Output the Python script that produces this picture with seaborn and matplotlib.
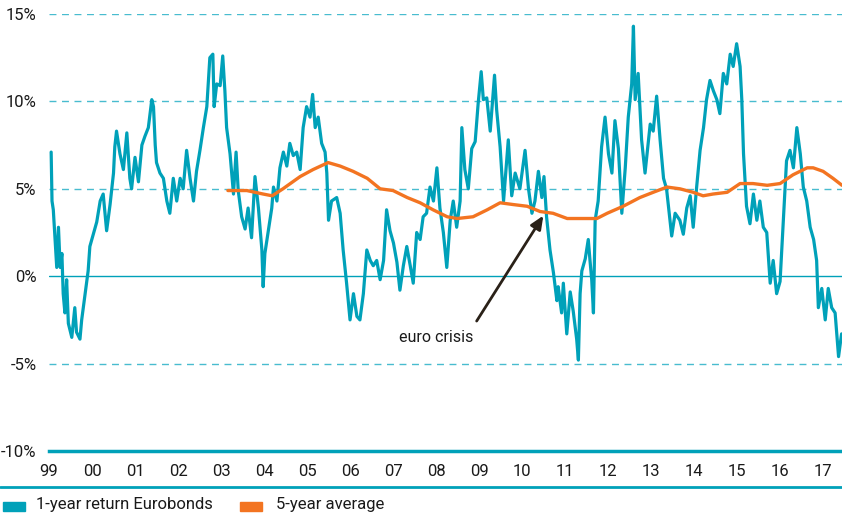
import numpy as np
import pandas as pd
import seaborn as sns
import matplotlib.pyplot as plt
from matplotlib.patches import Rectangle
from matplotlib.lines import Line2D

# 1-year return Eurobonds (decimal year, %)
bond_t = [1999.05, 1999.07, 1999.10, 1999.14, 1999.18, 1999.22, 1999.26, 1999.30, 1999.33, 1999.37,
          1999.41, 1999.45, 1999.53, 1999.60, 1999.64, 1999.72, 1999.76, 1999.84, 1999.91, 1999.95,
          2000.03, 2000.11, 2000.19, 2000.26, 2000.34, 2000.42, 2000.50, 2000.53, 2000.57, 2000.65,
          2000.73, 2000.81, 2000.88, 2000.92, 2001.00, 2001.08, 2001.16, 2001.23, 2001.31, 2001.39,
          2001.43, 2001.47, 2001.50, 2001.58, 2001.66, 2001.74, 2001.81, 2001.89, 2001.97, 2002.05,
          2002.12, 2002.20, 2002.28, 2002.36, 2002.43, 2002.51, 2002.59, 2002.67, 2002.74, 2002.81,
          2002.84, 2002.90, 2002.98, 2003.04, 2003.09, 2003.13, 2003.21, 2003.29, 2003.35, 2003.40,
          2003.48, 2003.56, 2003.63, 2003.71, 2003.79, 2003.87, 2003.95, 2003.98, 2004.02, 2004.10,
          2004.18, 2004.22, 2004.30, 2004.37, 2004.45, 2004.53, 2004.60, 2004.68, 2004.76, 2004.84,
          2004.91, 2004.99, 2005.07, 2005.13, 2005.19, 2005.26, 2005.34, 2005.42, 2005.46, 2005.50,
          2005.57, 2005.69, 2005.77, 2005.84, 2005.92, 2006.00, 2006.08, 2006.16, 2006.23, 2006.31,
          2006.39, 2006.47, 2006.54, 2006.62, 2006.70, 2006.78, 2006.85, 2006.93, 2007.01, 2007.09,
          2007.16, 2007.24, 2007.32, 2007.40, 2007.47, 2007.55, 2007.63, 2007.70, 2007.78, 2007.86,
          2007.94, 2008.02, 2008.09, 2008.17, 2008.25, 2008.33, 2008.40, 2008.48, 2008.56, 2008.60,
          2008.67, 2008.75, 2008.83, 2008.91, 2008.98, 2009.05, 2009.10, 2009.18, 2009.26, 2009.36,
          2009.41, 2009.49, 2009.57, 2009.68, 2009.76, 2009.84, 2009.95, 2010.07, 2010.15, 2010.23,
          2010.30, 2010.38, 2010.46, 2010.51, 2010.57, 2010.65, 2010.73, 2010.81, 2010.84, 2010.92,
          2010.96, 2011.04, 2011.12, 2011.19, 2011.27, 2011.31, 2011.35, 2011.39, 2011.47, 2011.54,
          2011.58, 2011.62, 2011.66, 2011.70, 2011.77, 2011.85, 2011.93, 2012.01, 2012.09, 2012.16,
          2012.24, 2012.32, 2012.40, 2012.47, 2012.55, 2012.59, 2012.63, 2012.70, 2012.78, 2012.86,
          2012.98, 2013.05, 2013.13, 2013.21, 2013.29, 2013.36, 2013.48, 2013.56, 2013.67, 2013.75,
          2013.83, 2013.91, 2013.98, 2014.06, 2014.14, 2014.22, 2014.29, 2014.37, 2014.45, 2014.53,
          2014.60, 2014.68, 2014.76, 2014.84, 2014.91, 2014.99, 2015.07, 2015.11, 2015.15, 2015.22,
          2015.30, 2015.38, 2015.46, 2015.53, 2015.61, 2015.69, 2015.77, 2015.84, 2015.92, 2016.00,
          2016.08, 2016.15, 2016.23, 2016.31, 2016.39, 2016.47, 2016.54, 2016.62, 2016.70, 2016.78,
          2016.85, 2016.89, 2016.97, 2017.05, 2017.12, 2017.20, 2017.28, 2017.36, 2017.43]
bond_ret = [7.1, 4.3, 3.8, 2.1, 0.5, 2.8, 0.5, 1.3, -1.0, -2.1,
            -0.2, -2.7, -3.5, -1.8, -3.2, -3.6, -2.5, -1.0, 0.3, 1.7,
            2.4, 3.1, 4.3, 4.7, 2.6, 4.1, 5.9, 7.4, 8.3, 7.0,
            6.1, 8.2, 5.6, 5.0, 6.8, 5.4, 7.5, 8.0, 8.5, 10.1,
            9.7, 7.5, 6.5, 5.9, 5.6, 4.3, 3.6, 5.6, 4.3, 5.6,
            5.0, 7.2, 5.6, 4.3, 6.0, 7.2, 8.5, 9.7, 12.5, 12.7,
            9.7, 11.0, 10.9, 12.6, 10.6, 8.5, 7.0, 4.7, 7.1, 4.9,
            3.4, 2.7, 3.9, 2.2, 5.7, 3.9, 1.5, -0.6, 1.3, 2.6,
            3.9, 5.1, 4.3, 6.2, 7.1, 6.3, 7.6, 6.9, 7.1, 6.1,
            8.5, 9.7, 9.1, 10.4, 8.5, 9.1, 7.6, 7.1, 5.9, 3.2,
            4.3, 4.5, 3.6, 1.5, -0.4, -2.5, -1.0, -2.3, -2.5, -1.0,
            1.5, 0.9, 0.6, 0.9, -0.2, 0.9, 3.8, 2.6, 1.9, 0.8,
            -0.8, 0.6, 1.7, 0.6, -0.4, 2.5, 2.1, 3.4, 3.6, 5.1,
            4.3, 6.2, 3.9, 2.5, 0.5, 3.2, 4.3, 2.8, 4.3, 8.5,
            6.1, 5.0, 7.3, 7.7, 9.9, 11.7, 10.1, 10.2, 8.3, 11.5,
            9.5, 7.4, 4.3, 7.8, 4.6, 5.9, 5.0, 7.2, 5.0, 3.6,
            4.3, 6.0, 4.5, 5.7, 3.4, 1.5, 0.2, -1.4, -0.6, -2.1,
            -0.4, -3.3, -0.9, -2.0, -3.6, -4.8, -1.0, 0.3, 1.0, 2.1,
            0.9, -0.2, -2.1, 3.2, 4.3, 7.4, 9.1, 7.0, 5.9, 8.9,
            7.3, 3.6, 6.2, 9.1, 11.0, 14.3, 10.1, 11.6, 7.8, 5.9,
            8.7, 8.3, 10.3, 7.8, 5.6, 5.0, 2.3, 3.6, 3.2, 2.4,
            3.9, 4.6, 2.8, 5.1, 7.2, 8.5, 10.1, 11.2, 10.6, 10.1,
            9.3, 11.6, 11.0, 12.7, 12.0, 13.3, 12.0, 10.1, 7.0, 4.0,
            3.0, 4.7, 3.2, 4.3, 2.8, 2.5, -0.4, 0.9, -1.0, -0.3,
            3.4, 6.6, 7.2, 6.2, 8.5, 7.0, 5.1, 4.3, 2.8, 2.1,
            0.9, -1.8, -0.7, -2.5, -0.7, -1.8, -2.1, -4.6, -3.3]

# 5-year average
avg_t = [2003.16, 2003.60, 2003.98, 2004.19, 2004.44, 2004.84, 2005.14, 2005.49, 2005.77, 2006.07,
         2006.40, 2006.70, 2007.00, 2007.33, 2007.63, 2007.93, 2008.26, 2008.49, 2008.86, 2009.19,
         2009.49, 2009.79, 2010.12, 2010.42, 2010.72, 2011.05, 2011.74, 2011.98, 2012.35, 2012.74,
         2013.05, 2013.37, 2013.67, 2013.98, 2014.21, 2014.44, 2014.77, 2015.07, 2015.37, 2015.70,
         2016.00, 2016.30, 2016.63, 2016.77, 2017.00, 2017.23, 2017.44]
avg_ret = [4.9, 4.9, 4.7, 4.6, 5.0, 5.7, 6.1, 6.5, 6.3, 6.0,
           5.6, 5.0, 4.9, 4.5, 4.2, 3.8, 3.4, 3.3, 3.4, 3.8,
           4.2, 4.1, 4.0, 3.7, 3.6, 3.3, 3.3, 3.6, 4.0, 4.5,
           4.8, 5.1, 5.0, 4.8, 4.6, 4.7, 4.8, 5.3, 5.3, 5.2,
           5.3, 5.8, 6.2, 6.2, 6.0, 5.6, 5.2]

year_ticks = list(range(1999, 2018))
year_labels = ["99", "00", "01", "02", "03", "04", "05", "06", "07", "08",
               "09", "10", "11", "12", "13", "14", "15", "16", "17"]
y_ticks = [-10, -5, 0, 5, 10, 15]

teal = "#00a1b9"
orange = "#f37421"
grid_teal = "#48bccf"

sns.set_style("white")
plt.rcParams["font.family"] = ["Roboto", "DejaVu Sans"]

fig = plt.figure(figsize=(8.42, 5.18), dpi=100)
ax = fig.add_axes([49 / 842, 1 - 451 / 518, 1 - 49 / 842, (451 - 14) / 518])

bonds = pd.DataFrame({"t": bond_t, "ret": bond_ret})
avg = pd.DataFrame({"t": avg_t, "ret": avg_ret})

# gridlines
for v in [15, 10, 5, -5]:
    ax.axhline(v, color=grid_teal, lw=1.0, ls=(0, (5, 4)), zorder=1)
ax.axhline(0, color=teal, lw=1.0, zorder=1)

sns.lineplot(data=bonds, x="t", y="ret", ax=ax, color=teal, lw=2.3, zorder=3)
sns.lineplot(data=avg, x="t", y="ret", ax=ax, color=orange, lw=2.4, zorder=4)

ax.set_xlim(1999, 2017.44)
ax.set_ylim(-10, 15)
ax.set_xticks(year_ticks)
ax.set_xticklabels(year_labels)
ax.set_yticks(y_ticks)
ax.set_yticklabels([f"{v}%" for v in y_ticks])
ax.set_xlabel("")
ax.set_ylabel("")
for s in ["top", "right", "left"]:
    ax.spines[s].set_visible(False)
ax.spines["bottom"].set_color(teal)
ax.spines["bottom"].set_linewidth(2.5)
ax.tick_params(axis="x", colors=teal, length=5, width=1.2, labelcolor="#1a1a1a",
               labelsize=12, pad=4)
ax.tick_params(axis="y", length=0, labelcolor="#1a1a1a", labelsize=12, pad=9)

# annotation
ax.annotate("", xy=(2010.53, 3.6), xytext=(2008.91, -2.7),
            arrowprops=dict(arrowstyle="-|>,head_length=0.8,head_width=0.35",
                            color="#2a2118", lw=2.0), zorder=5)
ax.text(2008.0, -3.5, "euro crisis", ha="center", va="center", fontsize=11.5, color="#1a1a1a")

# bottom separator + legend
fig.add_artist(Line2D([0, 1], [1 - 487 / 518, 1 - 487 / 518], color=teal, lw=2.0))
fig.add_artist(Rectangle((3 / 842, 1 - 511 / 518), 22 / 842, 9 / 518, color=teal))
fig.text(36 / 842, 1 - 505 / 518, "1-year return Eurobonds", fontsize=12, va="center", color="#1a1a1a")
fig.add_artist(Rectangle((240 / 842, 1 - 511 / 518), 22 / 842, 9 / 518, color=orange))
fig.text(276 / 842, 1 - 505 / 518, "5-year average", fontsize=12, va="center", color="#1a1a1a")

fig.savefig("out.png", dpi=100)
